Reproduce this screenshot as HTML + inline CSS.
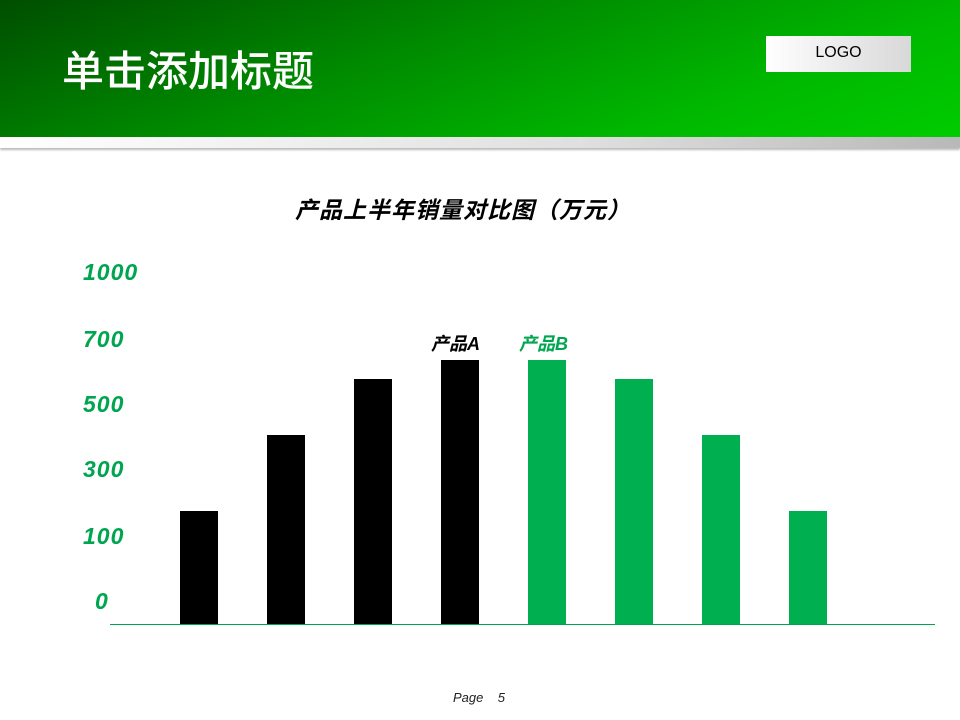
<!DOCTYPE html>
<html><head><meta charset="utf-8"><style>
body{margin:0;width:960px;height:720px;position:relative;background:#fff;overflow:hidden;font-family:"Liberation Sans","Noto Sans CJK SC",sans-serif}
.hdr{position:absolute;left:0;top:0;width:960px;height:137px;background:linear-gradient(160deg,#004e00 0%,#008a00 40%,#00b800 75%,#00cc00 100%)}
.strip{position:absolute;left:0;top:137px;width:960px;height:11px;background:linear-gradient(90deg,#fff 0%,#e0e0e0 60%,#b8b8b8 100%);box-shadow:0 2px 2px #bbb}
.t{position:absolute;left:62px;top:38px;color:#fff;font-size:42px;font-family:"Noto Sans CJK SC",sans-serif;font-weight:500}
.logo{position:absolute;left:766px;top:36px;width:145px;height:36px;background:linear-gradient(90deg,#fff,#d8d8d8);font-size:16px;text-align:center;line-height:34px;color:#000}
.ct{position:absolute;left:263px;width:400px;top:191px;text-align:center;font-size:23px;letter-spacing:1px;font-weight:bold;font-style:italic;white-space:nowrap}
.y{position:absolute;color:#00a550;font-weight:bold;font-style:italic;font-size:23px;letter-spacing:1px;left:83px}
.b{position:absolute;width:38px;bottom:96px}
.k{background:#000}.g{background:#00b050}
.lg{position:absolute;top:330px;font-size:18px;font-weight:bold;font-style:italic}
</style></head><body>
<div class="hdr"></div><div class="strip"></div>
<div class="t">单击添加标题</div>
<div class="logo">LOGO</div>
<div class="ct">产品上半年销量对比图（万元）</div>
<div class="y" style="top:259px">1000</div>
<div class="y" style="top:326px">700</div>
<div class="y" style="top:391px">500</div>
<div class="y" style="top:456px">300</div>
<div class="y" style="top:523px">100</div>
<div class="y" style="top:588px;left:95px">0</div>
<div class="lg" style="left:431px;color:#000">产品A</div>
<div class="lg" style="left:519px;color:#00a550">产品B</div>
<div class="b k" style="left:180px;height:113px"></div>
<div class="b k" style="left:267px;height:189px"></div>
<div class="b k" style="left:354px;height:245px"></div>
<div class="b k" style="left:441px;height:264px"></div>
<div class="b g" style="left:528px;height:264px"></div>
<div class="b g" style="left:615px;height:245px"></div>
<div class="b g" style="left:702px;height:189px"></div>
<div class="b g" style="left:789px;height:113px"></div>
<div style="position:absolute;left:110px;top:624px;width:825px;height:1px;background:#00a550"></div>
<div style="position:absolute;left:453px;top:690px;font-size:13px;font-style:italic;color:#222">Page &nbsp;&nbsp; 5</div>
</body></html>
